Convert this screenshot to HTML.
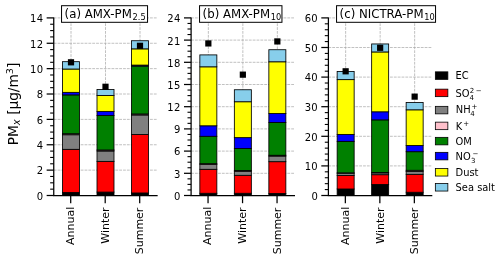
<!DOCTYPE html>
<html lang="en"><head><meta charset="utf-8"><title>PM composition</title>
<style>
html,body{margin:0;padding:0;background:#fff;}
svg{display:block;will-change:transform;filter:grayscale(0);}
text{font-family:"DejaVu Sans","Liberation Sans",sans-serif;fill:#000;}
.t{font-size:10px;}
.l{font-size:13.7px;}
.h{font-size:11.75px;}
.i{font-style:italic;}
.g{font-size:9.9px;}
.x{font-size:11px;}
.y{letter-spacing:0.35px;}
</style></head><body>
<svg width="500" height="259" viewBox="0 0 500 259">
<rect width="500" height="259" fill="#fff"/>
<g>
<line x1="53.75" y1="195.5" x2="157.25" y2="195.5" stroke="#a8a8a8" stroke-width="0.72" stroke-dasharray="2.8 1.05"/>
<line x1="53.75" y1="170.13" x2="157.25" y2="170.13" stroke="#a8a8a8" stroke-width="0.72" stroke-dasharray="2.8 1.05"/>
<line x1="53.75" y1="144.76" x2="157.25" y2="144.76" stroke="#a8a8a8" stroke-width="0.72" stroke-dasharray="2.8 1.05"/>
<line x1="53.75" y1="119.39" x2="157.25" y2="119.39" stroke="#a8a8a8" stroke-width="0.72" stroke-dasharray="2.8 1.05"/>
<line x1="53.75" y1="94.01" x2="157.25" y2="94.01" stroke="#a8a8a8" stroke-width="0.72" stroke-dasharray="2.8 1.05"/>
<line x1="53.75" y1="68.64" x2="157.25" y2="68.64" stroke="#a8a8a8" stroke-width="0.72" stroke-dasharray="2.8 1.05"/>
<line x1="53.75" y1="43.27" x2="157.25" y2="43.27" stroke="#a8a8a8" stroke-width="0.72" stroke-dasharray="2.8 1.05"/>
<line x1="53.75" y1="17.9" x2="157.25" y2="17.9" stroke="#a8a8a8" stroke-width="0.72" stroke-dasharray="2.8 1.05"/>
<line x1="71" y1="195.5" x2="71" y2="17.9" stroke="#a8a8a8" stroke-width="0.72" stroke-dasharray="2.8 1.05"/>
<line x1="105.5" y1="195.5" x2="105.5" y2="17.9" stroke="#a8a8a8" stroke-width="0.72" stroke-dasharray="2.8 1.05"/>
<line x1="140" y1="195.5" x2="140" y2="17.9" stroke="#a8a8a8" stroke-width="0.72" stroke-dasharray="2.8 1.05"/>
<rect x="62.5" y="192.51" width="17" height="2.99" fill="#000000" stroke="#000" stroke-width="0.85"/>
<rect x="62.5" y="149.32" width="17" height="43.18" fill="#ff0000" stroke="#000" stroke-width="0.85"/>
<rect x="62.5" y="134.74" width="17" height="14.59" fill="#808080" stroke="#000" stroke-width="0.85"/>
<rect x="62.5" y="133.72" width="17" height="1.01" fill="#ffc0cb" stroke="#000" stroke-width="0.85"/>
<rect x="62.5" y="94.9" width="17" height="38.82" fill="#008000" stroke="#000" stroke-width="0.85"/>
<rect x="62.5" y="92.37" width="17" height="2.54" fill="#0000ff" stroke="#000" stroke-width="0.85"/>
<rect x="62.5" y="69.02" width="17" height="23.34" fill="#ffff00" stroke="#000" stroke-width="0.85"/>
<rect x="62.5" y="61.67" width="17" height="7.36" fill="#87ceeb" stroke="#000" stroke-width="0.85"/>
<rect x="97" y="192.07" width="17" height="3.43" fill="#000000" stroke="#000" stroke-width="0.85"/>
<rect x="97" y="161.38" width="17" height="30.7" fill="#ff0000" stroke="#000" stroke-width="0.85"/>
<rect x="97" y="150.97" width="17" height="10.4" fill="#808080" stroke="#000" stroke-width="0.85"/>
<rect x="97" y="149.96" width="17" height="1.01" fill="#ffc0cb" stroke="#000" stroke-width="0.85"/>
<rect x="97" y="115.45" width="17" height="34.51" fill="#008000" stroke="#000" stroke-width="0.85"/>
<rect x="97" y="111.39" width="17" height="4.06" fill="#0000ff" stroke="#000" stroke-width="0.85"/>
<rect x="97" y="95.54" width="17" height="15.86" fill="#ffff00" stroke="#000" stroke-width="0.85"/>
<rect x="97" y="89.57" width="17" height="5.96" fill="#87ceeb" stroke="#000" stroke-width="0.85"/>
<rect x="131.5" y="192.96" width="17" height="2.54" fill="#000000" stroke="#000" stroke-width="0.85"/>
<rect x="131.5" y="134.48" width="17" height="58.48" fill="#ff0000" stroke="#000" stroke-width="0.85"/>
<rect x="131.5" y="114.95" width="17" height="19.54" fill="#808080" stroke="#000" stroke-width="0.85"/>
<rect x="131.5" y="113.93" width="17" height="1.01" fill="#ffc0cb" stroke="#000" stroke-width="0.85"/>
<rect x="131.5" y="66.11" width="17" height="47.83" fill="#008000" stroke="#000" stroke-width="0.85"/>
<rect x="131.5" y="65.09" width="17" height="1.01" fill="#0000ff" stroke="#000" stroke-width="0.85"/>
<rect x="131.5" y="48.85" width="17" height="16.24" fill="#ffff00" stroke="#000" stroke-width="0.85"/>
<rect x="131.5" y="40.73" width="17" height="8.12" fill="#87ceeb" stroke="#000" stroke-width="0.85"/>
<rect x="67.9" y="59.2" width="6.2" height="6.2" fill="#000"/>
<rect x="102.4" y="83.68" width="6.2" height="6.2" fill="#000"/>
<rect x="136.9" y="42.71" width="6.2" height="6.2" fill="#000"/>
<polyline points="53.75,17.5 53.75,195.5 157.65,195.5" fill="none" stroke="#000" stroke-width="1.25" stroke-linejoin="miter"/>
<line x1="46.65" y1="195.5" x2="53.75" y2="195.5" stroke="#000" stroke-width="1.25"/>
<text class="t y" x="43.45" y="199.75" text-anchor="end">0</text>
<line x1="50.15" y1="189.16" x2="53.75" y2="189.16" stroke="#000" stroke-width="1.1"/>
<line x1="50.15" y1="182.81" x2="53.75" y2="182.81" stroke="#000" stroke-width="1.1"/>
<line x1="50.15" y1="176.47" x2="53.75" y2="176.47" stroke="#000" stroke-width="1.1"/>
<line x1="46.65" y1="170.13" x2="53.75" y2="170.13" stroke="#000" stroke-width="1.25"/>
<text class="t y" x="43.45" y="174.38" text-anchor="end">2</text>
<line x1="50.15" y1="163.79" x2="53.75" y2="163.79" stroke="#000" stroke-width="1.1"/>
<line x1="50.15" y1="157.44" x2="53.75" y2="157.44" stroke="#000" stroke-width="1.1"/>
<line x1="50.15" y1="151.1" x2="53.75" y2="151.1" stroke="#000" stroke-width="1.1"/>
<line x1="46.65" y1="144.76" x2="53.75" y2="144.76" stroke="#000" stroke-width="1.25"/>
<text class="t y" x="43.45" y="149.01" text-anchor="end">4</text>
<line x1="50.15" y1="138.41" x2="53.75" y2="138.41" stroke="#000" stroke-width="1.1"/>
<line x1="50.15" y1="132.07" x2="53.75" y2="132.07" stroke="#000" stroke-width="1.1"/>
<line x1="50.15" y1="125.73" x2="53.75" y2="125.73" stroke="#000" stroke-width="1.1"/>
<line x1="46.65" y1="119.39" x2="53.75" y2="119.39" stroke="#000" stroke-width="1.25"/>
<text class="t y" x="43.45" y="123.64" text-anchor="end">6</text>
<line x1="50.15" y1="113.04" x2="53.75" y2="113.04" stroke="#000" stroke-width="1.1"/>
<line x1="50.15" y1="106.7" x2="53.75" y2="106.7" stroke="#000" stroke-width="1.1"/>
<line x1="50.15" y1="100.36" x2="53.75" y2="100.36" stroke="#000" stroke-width="1.1"/>
<line x1="46.65" y1="94.01" x2="53.75" y2="94.01" stroke="#000" stroke-width="1.25"/>
<text class="t y" x="43.45" y="98.26" text-anchor="end">8</text>
<line x1="50.15" y1="87.67" x2="53.75" y2="87.67" stroke="#000" stroke-width="1.1"/>
<line x1="50.15" y1="81.33" x2="53.75" y2="81.33" stroke="#000" stroke-width="1.1"/>
<line x1="50.15" y1="74.99" x2="53.75" y2="74.99" stroke="#000" stroke-width="1.1"/>
<line x1="46.65" y1="68.64" x2="53.75" y2="68.64" stroke="#000" stroke-width="1.25"/>
<text class="t y" x="43.45" y="72.89" text-anchor="end">10</text>
<line x1="50.15" y1="62.3" x2="53.75" y2="62.3" stroke="#000" stroke-width="1.1"/>
<line x1="50.15" y1="55.96" x2="53.75" y2="55.96" stroke="#000" stroke-width="1.1"/>
<line x1="50.15" y1="49.61" x2="53.75" y2="49.61" stroke="#000" stroke-width="1.1"/>
<line x1="46.65" y1="43.27" x2="53.75" y2="43.27" stroke="#000" stroke-width="1.25"/>
<text class="t y" x="43.45" y="47.52" text-anchor="end">12</text>
<line x1="50.15" y1="36.93" x2="53.75" y2="36.93" stroke="#000" stroke-width="1.1"/>
<line x1="50.15" y1="30.59" x2="53.75" y2="30.59" stroke="#000" stroke-width="1.1"/>
<line x1="50.15" y1="24.24" x2="53.75" y2="24.24" stroke="#000" stroke-width="1.1"/>
<line x1="46.65" y1="17.9" x2="53.75" y2="17.9" stroke="#000" stroke-width="1.25"/>
<text class="t y" x="43.45" y="22.15" text-anchor="end">14</text>
<line x1="70.7" y1="195.5" x2="70.7" y2="203.2" stroke="#000" stroke-width="1.25"/>
<text class="x" transform="translate(73.7 206.7) rotate(-90)" text-anchor="end">Annual</text>
<line x1="105.2" y1="195.5" x2="105.2" y2="203.2" stroke="#000" stroke-width="1.25"/>
<text class="x" transform="translate(108.5 207.4) rotate(-90)" text-anchor="end">Winter</text>
<line x1="139.7" y1="195.5" x2="139.7" y2="203.2" stroke="#000" stroke-width="1.25"/>
<text class="x" transform="translate(143.2 207.6) rotate(-90)" text-anchor="end">Summer</text>
<rect x="61.55" y="5.7" width="86" height="16.6" fill="#fff" stroke="#000" stroke-width="1"/>
<text class="h" x="64.6" y="18">(a) AMX-PM<tspan dx="0.8" dy="2.3" font-size="8.22px">2.5</tspan></text>
</g>
<g>
<line x1="191.1" y1="195.5" x2="294.6" y2="195.5" stroke="#a8a8a8" stroke-width="0.72" stroke-dasharray="2.8 1.05"/>
<line x1="191.1" y1="173.3" x2="294.6" y2="173.3" stroke="#a8a8a8" stroke-width="0.72" stroke-dasharray="2.8 1.05"/>
<line x1="191.1" y1="151.1" x2="294.6" y2="151.1" stroke="#a8a8a8" stroke-width="0.72" stroke-dasharray="2.8 1.05"/>
<line x1="191.1" y1="128.9" x2="294.6" y2="128.9" stroke="#a8a8a8" stroke-width="0.72" stroke-dasharray="2.8 1.05"/>
<line x1="191.1" y1="106.7" x2="294.6" y2="106.7" stroke="#a8a8a8" stroke-width="0.72" stroke-dasharray="2.8 1.05"/>
<line x1="191.1" y1="84.5" x2="294.6" y2="84.5" stroke="#a8a8a8" stroke-width="0.72" stroke-dasharray="2.8 1.05"/>
<line x1="191.1" y1="62.3" x2="294.6" y2="62.3" stroke="#a8a8a8" stroke-width="0.72" stroke-dasharray="2.8 1.05"/>
<line x1="191.1" y1="40.1" x2="294.6" y2="40.1" stroke="#a8a8a8" stroke-width="0.72" stroke-dasharray="2.8 1.05"/>
<line x1="191.1" y1="17.9" x2="294.6" y2="17.9" stroke="#a8a8a8" stroke-width="0.72" stroke-dasharray="2.8 1.05"/>
<line x1="208.35" y1="195.5" x2="208.35" y2="17.9" stroke="#a8a8a8" stroke-width="0.72" stroke-dasharray="2.8 1.05"/>
<line x1="242.85" y1="195.5" x2="242.85" y2="17.9" stroke="#a8a8a8" stroke-width="0.72" stroke-dasharray="2.8 1.05"/>
<line x1="277.35" y1="195.5" x2="277.35" y2="17.9" stroke="#a8a8a8" stroke-width="0.72" stroke-dasharray="2.8 1.05"/>
<rect x="199.85" y="193.28" width="17" height="2.22" fill="#000000" stroke="#000" stroke-width="0.85"/>
<rect x="199.85" y="169.3" width="17" height="23.98" fill="#ff0000" stroke="#000" stroke-width="0.85"/>
<rect x="199.85" y="164.57" width="17" height="4.74" fill="#808080" stroke="#000" stroke-width="0.85"/>
<rect x="199.85" y="163.68" width="17" height="0.89" fill="#ffc0cb" stroke="#000" stroke-width="0.85"/>
<rect x="199.85" y="136.3" width="17" height="27.38" fill="#008000" stroke="#000" stroke-width="0.85"/>
<rect x="199.85" y="125.79" width="17" height="10.51" fill="#0000ff" stroke="#000" stroke-width="0.85"/>
<rect x="199.85" y="66.81" width="17" height="58.98" fill="#ffff00" stroke="#000" stroke-width="0.85"/>
<rect x="199.85" y="54.9" width="17" height="11.91" fill="#87ceeb" stroke="#000" stroke-width="0.85"/>
<rect x="234.35" y="193.28" width="17" height="2.22" fill="#000000" stroke="#000" stroke-width="0.85"/>
<rect x="234.35" y="175.3" width="17" height="17.98" fill="#ff0000" stroke="#000" stroke-width="0.85"/>
<rect x="234.35" y="171.38" width="17" height="3.92" fill="#808080" stroke="#000" stroke-width="0.85"/>
<rect x="234.35" y="170.49" width="17" height="0.89" fill="#ffc0cb" stroke="#000" stroke-width="0.85"/>
<rect x="234.35" y="148.44" width="17" height="22.05" fill="#008000" stroke="#000" stroke-width="0.85"/>
<rect x="234.35" y="137.63" width="17" height="10.8" fill="#0000ff" stroke="#000" stroke-width="0.85"/>
<rect x="234.35" y="101.74" width="17" height="35.89" fill="#ffff00" stroke="#000" stroke-width="0.85"/>
<rect x="234.35" y="89.75" width="17" height="11.99" fill="#87ceeb" stroke="#000" stroke-width="0.85"/>
<rect x="268.85" y="193.43" width="17" height="2.07" fill="#000000" stroke="#000" stroke-width="0.85"/>
<rect x="268.85" y="161.68" width="17" height="31.75" fill="#ff0000" stroke="#000" stroke-width="0.85"/>
<rect x="268.85" y="156.13" width="17" height="5.55" fill="#808080" stroke="#000" stroke-width="0.85"/>
<rect x="268.85" y="155.24" width="17" height="0.89" fill="#ffc0cb" stroke="#000" stroke-width="0.85"/>
<rect x="268.85" y="122.54" width="17" height="32.71" fill="#008000" stroke="#000" stroke-width="0.85"/>
<rect x="268.85" y="113.58" width="17" height="8.95" fill="#0000ff" stroke="#000" stroke-width="0.85"/>
<rect x="268.85" y="61.78" width="17" height="51.8" fill="#ffff00" stroke="#000" stroke-width="0.85"/>
<rect x="268.85" y="49.72" width="17" height="12.06" fill="#87ceeb" stroke="#000" stroke-width="0.85"/>
<rect x="205.25" y="40.33" width="6.2" height="6.2" fill="#000"/>
<rect x="239.75" y="71.56" width="6.2" height="6.2" fill="#000"/>
<rect x="274.25" y="38.33" width="6.2" height="6.2" fill="#000"/>
<polyline points="191.1,17.5 191.1,195.5 295,195.5" fill="none" stroke="#000" stroke-width="1.25" stroke-linejoin="miter"/>
<line x1="184" y1="195.5" x2="191.1" y2="195.5" stroke="#000" stroke-width="1.25"/>
<text class="t y" x="180.8" y="199.75" text-anchor="end">0</text>
<line x1="187.5" y1="189.95" x2="191.1" y2="189.95" stroke="#000" stroke-width="1.1"/>
<line x1="187.5" y1="184.4" x2="191.1" y2="184.4" stroke="#000" stroke-width="1.1"/>
<line x1="187.5" y1="178.85" x2="191.1" y2="178.85" stroke="#000" stroke-width="1.1"/>
<line x1="184" y1="173.3" x2="191.1" y2="173.3" stroke="#000" stroke-width="1.25"/>
<text class="t y" x="180.8" y="177.55" text-anchor="end">3</text>
<line x1="187.5" y1="167.75" x2="191.1" y2="167.75" stroke="#000" stroke-width="1.1"/>
<line x1="187.5" y1="162.2" x2="191.1" y2="162.2" stroke="#000" stroke-width="1.1"/>
<line x1="187.5" y1="156.65" x2="191.1" y2="156.65" stroke="#000" stroke-width="1.1"/>
<line x1="184" y1="151.1" x2="191.1" y2="151.1" stroke="#000" stroke-width="1.25"/>
<text class="t y" x="180.8" y="155.35" text-anchor="end">6</text>
<line x1="187.5" y1="145.55" x2="191.1" y2="145.55" stroke="#000" stroke-width="1.1"/>
<line x1="187.5" y1="140" x2="191.1" y2="140" stroke="#000" stroke-width="1.1"/>
<line x1="187.5" y1="134.45" x2="191.1" y2="134.45" stroke="#000" stroke-width="1.1"/>
<line x1="184" y1="128.9" x2="191.1" y2="128.9" stroke="#000" stroke-width="1.25"/>
<text class="t y" x="180.8" y="133.15" text-anchor="end">9</text>
<line x1="187.5" y1="123.35" x2="191.1" y2="123.35" stroke="#000" stroke-width="1.1"/>
<line x1="187.5" y1="117.8" x2="191.1" y2="117.8" stroke="#000" stroke-width="1.1"/>
<line x1="187.5" y1="112.25" x2="191.1" y2="112.25" stroke="#000" stroke-width="1.1"/>
<line x1="184" y1="106.7" x2="191.1" y2="106.7" stroke="#000" stroke-width="1.25"/>
<text class="t y" x="180.8" y="110.95" text-anchor="end">12</text>
<line x1="187.5" y1="101.15" x2="191.1" y2="101.15" stroke="#000" stroke-width="1.1"/>
<line x1="187.5" y1="95.6" x2="191.1" y2="95.6" stroke="#000" stroke-width="1.1"/>
<line x1="187.5" y1="90.05" x2="191.1" y2="90.05" stroke="#000" stroke-width="1.1"/>
<line x1="184" y1="84.5" x2="191.1" y2="84.5" stroke="#000" stroke-width="1.25"/>
<text class="t y" x="180.8" y="88.75" text-anchor="end">15</text>
<line x1="187.5" y1="78.95" x2="191.1" y2="78.95" stroke="#000" stroke-width="1.1"/>
<line x1="187.5" y1="73.4" x2="191.1" y2="73.4" stroke="#000" stroke-width="1.1"/>
<line x1="187.5" y1="67.85" x2="191.1" y2="67.85" stroke="#000" stroke-width="1.1"/>
<line x1="184" y1="62.3" x2="191.1" y2="62.3" stroke="#000" stroke-width="1.25"/>
<text class="t y" x="180.8" y="66.55" text-anchor="end">18</text>
<line x1="187.5" y1="56.75" x2="191.1" y2="56.75" stroke="#000" stroke-width="1.1"/>
<line x1="187.5" y1="51.2" x2="191.1" y2="51.2" stroke="#000" stroke-width="1.1"/>
<line x1="187.5" y1="45.65" x2="191.1" y2="45.65" stroke="#000" stroke-width="1.1"/>
<line x1="184" y1="40.1" x2="191.1" y2="40.1" stroke="#000" stroke-width="1.25"/>
<text class="t y" x="180.8" y="44.85" text-anchor="end">21</text>
<line x1="187.5" y1="34.55" x2="191.1" y2="34.55" stroke="#000" stroke-width="1.1"/>
<line x1="187.5" y1="29" x2="191.1" y2="29" stroke="#000" stroke-width="1.1"/>
<line x1="187.5" y1="23.45" x2="191.1" y2="23.45" stroke="#000" stroke-width="1.1"/>
<line x1="184" y1="17.9" x2="191.1" y2="17.9" stroke="#000" stroke-width="1.25"/>
<text class="t y" x="180.8" y="22.15" text-anchor="end">24</text>
<line x1="208.05" y1="195.5" x2="208.05" y2="203.2" stroke="#000" stroke-width="1.25"/>
<text class="x" transform="translate(211.15 206.7) rotate(-90)" text-anchor="end">Annual</text>
<line x1="242.55" y1="195.5" x2="242.55" y2="203.2" stroke="#000" stroke-width="1.25"/>
<text class="x" transform="translate(245.95 207.4) rotate(-90)" text-anchor="end">Winter</text>
<line x1="277.05" y1="195.5" x2="277.05" y2="203.2" stroke="#000" stroke-width="1.25"/>
<text class="x" transform="translate(281.05 207.6) rotate(-90)" text-anchor="end">Summer</text>
<rect x="199.55" y="5.7" width="82.4" height="16.6" fill="#fff" stroke="#000" stroke-width="1"/>
<text class="h" x="202.6" y="18">(b) AMX-PM<tspan dx="0.8" dy="2.3" font-size="8.22px">10</tspan></text>
</g>
<g>
<line x1="328.4" y1="195.5" x2="431.9" y2="195.5" stroke="#a8a8a8" stroke-width="0.72" stroke-dasharray="2.8 1.05"/>
<line x1="328.4" y1="165.9" x2="431.9" y2="165.9" stroke="#a8a8a8" stroke-width="0.72" stroke-dasharray="2.8 1.05"/>
<line x1="328.4" y1="136.3" x2="431.9" y2="136.3" stroke="#a8a8a8" stroke-width="0.72" stroke-dasharray="2.8 1.05"/>
<line x1="328.4" y1="106.7" x2="431.9" y2="106.7" stroke="#a8a8a8" stroke-width="0.72" stroke-dasharray="2.8 1.05"/>
<line x1="328.4" y1="77.1" x2="431.9" y2="77.1" stroke="#a8a8a8" stroke-width="0.72" stroke-dasharray="2.8 1.05"/>
<line x1="328.4" y1="47.5" x2="431.9" y2="47.5" stroke="#a8a8a8" stroke-width="0.72" stroke-dasharray="2.8 1.05"/>
<line x1="328.4" y1="17.9" x2="431.9" y2="17.9" stroke="#a8a8a8" stroke-width="0.72" stroke-dasharray="2.8 1.05"/>
<line x1="345.65" y1="195.5" x2="345.65" y2="17.9" stroke="#a8a8a8" stroke-width="0.72" stroke-dasharray="2.8 1.05"/>
<line x1="380.15" y1="195.5" x2="380.15" y2="17.9" stroke="#a8a8a8" stroke-width="0.72" stroke-dasharray="2.8 1.05"/>
<line x1="414.65" y1="195.5" x2="414.65" y2="17.9" stroke="#a8a8a8" stroke-width="0.72" stroke-dasharray="2.8 1.05"/>
<rect x="337.15" y="188.99" width="17" height="6.51" fill="#000000" stroke="#000" stroke-width="0.85"/>
<rect x="337.15" y="175.46" width="17" height="13.53" fill="#ff0000" stroke="#000" stroke-width="0.85"/>
<rect x="337.15" y="173.27" width="17" height="2.19" fill="#808080" stroke="#000" stroke-width="0.85"/>
<rect x="337.15" y="172.86" width="17" height="0.41" fill="#ffc0cb" stroke="#000" stroke-width="0.85"/>
<rect x="337.15" y="141.36" width="17" height="31.49" fill="#008000" stroke="#000" stroke-width="0.85"/>
<rect x="337.15" y="134.41" width="17" height="6.96" fill="#0000ff" stroke="#000" stroke-width="0.85"/>
<rect x="337.15" y="79.62" width="17" height="54.79" fill="#ffff00" stroke="#000" stroke-width="0.85"/>
<rect x="337.15" y="71.48" width="17" height="8.14" fill="#87ceeb" stroke="#000" stroke-width="0.85"/>
<rect x="371.65" y="184.46" width="17" height="11.04" fill="#000000" stroke="#000" stroke-width="0.85"/>
<rect x="371.65" y="174.69" width="17" height="9.77" fill="#ff0000" stroke="#000" stroke-width="0.85"/>
<rect x="371.65" y="172.89" width="17" height="1.81" fill="#808080" stroke="#000" stroke-width="0.85"/>
<rect x="371.65" y="172.41" width="17" height="0.47" fill="#ffc0cb" stroke="#000" stroke-width="0.85"/>
<rect x="371.65" y="119.87" width="17" height="52.54" fill="#008000" stroke="#000" stroke-width="0.85"/>
<rect x="371.65" y="111.79" width="17" height="8.08" fill="#0000ff" stroke="#000" stroke-width="0.85"/>
<rect x="371.65" y="51.94" width="17" height="59.85" fill="#ffff00" stroke="#000" stroke-width="0.85"/>
<rect x="371.65" y="43.95" width="17" height="7.99" fill="#87ceeb" stroke="#000" stroke-width="0.85"/>
<rect x="406.15" y="192.24" width="17" height="3.26" fill="#000000" stroke="#000" stroke-width="0.85"/>
<rect x="406.15" y="174.34" width="17" height="17.91" fill="#ff0000" stroke="#000" stroke-width="0.85"/>
<rect x="406.15" y="171.52" width="17" height="2.81" fill="#808080" stroke="#000" stroke-width="0.85"/>
<rect x="406.15" y="170.28" width="17" height="1.24" fill="#ffc0cb" stroke="#000" stroke-width="0.85"/>
<rect x="406.15" y="151.69" width="17" height="18.59" fill="#008000" stroke="#000" stroke-width="0.85"/>
<rect x="406.15" y="145.54" width="17" height="6.16" fill="#0000ff" stroke="#000" stroke-width="0.85"/>
<rect x="406.15" y="109.81" width="17" height="35.73" fill="#ffff00" stroke="#000" stroke-width="0.85"/>
<rect x="406.15" y="102.56" width="17" height="7.25" fill="#87ceeb" stroke="#000" stroke-width="0.85"/>
<rect x="342.55" y="68.2" width="6.2" height="6.2" fill="#000"/>
<rect x="377.05" y="44.7" width="6.2" height="6.2" fill="#000"/>
<rect x="411.55" y="93.54" width="6.2" height="6.2" fill="#000"/>
<polyline points="328.4,17.5 328.4,195.5 432.3,195.5" fill="none" stroke="#000" stroke-width="1.25" stroke-linejoin="miter"/>
<line x1="321.3" y1="195.5" x2="328.4" y2="195.5" stroke="#000" stroke-width="1.25"/>
<text class="t y" x="318.1" y="199.75" text-anchor="end">0</text>
<line x1="324.8" y1="189.58" x2="328.4" y2="189.58" stroke="#000" stroke-width="1.1"/>
<line x1="324.8" y1="183.66" x2="328.4" y2="183.66" stroke="#000" stroke-width="1.1"/>
<line x1="324.8" y1="177.74" x2="328.4" y2="177.74" stroke="#000" stroke-width="1.1"/>
<line x1="324.8" y1="171.82" x2="328.4" y2="171.82" stroke="#000" stroke-width="1.1"/>
<line x1="321.3" y1="165.9" x2="328.4" y2="165.9" stroke="#000" stroke-width="1.25"/>
<text class="t y" x="318.1" y="170.15" text-anchor="end">10</text>
<line x1="324.8" y1="159.98" x2="328.4" y2="159.98" stroke="#000" stroke-width="1.1"/>
<line x1="324.8" y1="154.06" x2="328.4" y2="154.06" stroke="#000" stroke-width="1.1"/>
<line x1="324.8" y1="148.14" x2="328.4" y2="148.14" stroke="#000" stroke-width="1.1"/>
<line x1="324.8" y1="142.22" x2="328.4" y2="142.22" stroke="#000" stroke-width="1.1"/>
<line x1="321.3" y1="136.3" x2="328.4" y2="136.3" stroke="#000" stroke-width="1.25"/>
<text class="t y" x="318.1" y="140.55" text-anchor="end">20</text>
<line x1="324.8" y1="130.38" x2="328.4" y2="130.38" stroke="#000" stroke-width="1.1"/>
<line x1="324.8" y1="124.46" x2="328.4" y2="124.46" stroke="#000" stroke-width="1.1"/>
<line x1="324.8" y1="118.54" x2="328.4" y2="118.54" stroke="#000" stroke-width="1.1"/>
<line x1="324.8" y1="112.62" x2="328.4" y2="112.62" stroke="#000" stroke-width="1.1"/>
<line x1="321.3" y1="106.7" x2="328.4" y2="106.7" stroke="#000" stroke-width="1.25"/>
<text class="t y" x="318.1" y="110.95" text-anchor="end">30</text>
<line x1="324.8" y1="100.78" x2="328.4" y2="100.78" stroke="#000" stroke-width="1.1"/>
<line x1="324.8" y1="94.86" x2="328.4" y2="94.86" stroke="#000" stroke-width="1.1"/>
<line x1="324.8" y1="88.94" x2="328.4" y2="88.94" stroke="#000" stroke-width="1.1"/>
<line x1="324.8" y1="83.02" x2="328.4" y2="83.02" stroke="#000" stroke-width="1.1"/>
<line x1="321.3" y1="77.1" x2="328.4" y2="77.1" stroke="#000" stroke-width="1.25"/>
<text class="t y" x="318.1" y="81.35" text-anchor="end">40</text>
<line x1="324.8" y1="71.18" x2="328.4" y2="71.18" stroke="#000" stroke-width="1.1"/>
<line x1="324.8" y1="65.26" x2="328.4" y2="65.26" stroke="#000" stroke-width="1.1"/>
<line x1="324.8" y1="59.34" x2="328.4" y2="59.34" stroke="#000" stroke-width="1.1"/>
<line x1="324.8" y1="53.42" x2="328.4" y2="53.42" stroke="#000" stroke-width="1.1"/>
<line x1="321.3" y1="47.5" x2="328.4" y2="47.5" stroke="#000" stroke-width="1.25"/>
<text class="t y" x="318.1" y="51.75" text-anchor="end">50</text>
<line x1="324.8" y1="41.58" x2="328.4" y2="41.58" stroke="#000" stroke-width="1.1"/>
<line x1="324.8" y1="35.66" x2="328.4" y2="35.66" stroke="#000" stroke-width="1.1"/>
<line x1="324.8" y1="29.74" x2="328.4" y2="29.74" stroke="#000" stroke-width="1.1"/>
<line x1="324.8" y1="23.82" x2="328.4" y2="23.82" stroke="#000" stroke-width="1.1"/>
<line x1="321.3" y1="17.9" x2="328.4" y2="17.9" stroke="#000" stroke-width="1.25"/>
<text class="t y" x="318.1" y="22.15" text-anchor="end">60</text>
<line x1="345.35" y1="195.5" x2="345.35" y2="203.2" stroke="#000" stroke-width="1.25"/>
<text class="x" transform="translate(349.35 206.7) rotate(-90)" text-anchor="end">Annual</text>
<line x1="379.85" y1="195.5" x2="379.85" y2="203.2" stroke="#000" stroke-width="1.25"/>
<text class="x" transform="translate(383.85 207.4) rotate(-90)" text-anchor="end">Winter</text>
<line x1="414.35" y1="195.5" x2="414.35" y2="203.2" stroke="#000" stroke-width="1.25"/>
<text class="x" transform="translate(418.35 207.6) rotate(-90)" text-anchor="end">Summer</text>
<rect x="336.55" y="5.7" width="99" height="16.6" fill="#fff" stroke="#000" stroke-width="1"/>
<text class="h" x="339.6" y="18">(c) NICTRA-PM<tspan dx="0.8" dy="2.3" font-size="8.22px">10</tspan></text>
</g>
<text class="l" transform="translate(18.4 145.3) rotate(-90)">PM<tspan class="i" dy="1.5" font-size="10.14px">x</tspan><tspan dy="-1.5"> [μg/m</tspan><tspan dy="-5.4" font-size="9.59px">3</tspan><tspan dy="5.4">]</tspan></text>
<g>
<rect x="435.35" y="71.85" width="12.5" height="7.5" fill="#000000" stroke="#000" stroke-width="0.8"/>
<text class="t g"><tspan x="455.6" y="79.3">EC</tspan></text>
<rect x="435.35" y="89.15" width="12.5" height="7.5" fill="#ff0000" stroke="#000" stroke-width="0.8"/>
<text class="t g"><tspan x="455.6" y="96.7">SO</tspan><tspan x="469.82" y="92.5" font-size="7px">2</tspan><tspan x="475.67" y="92.5" font-size="7px">−</tspan><tspan x="469.52" y="99.5" font-size="7px">4</tspan></text>
<rect x="435.35" y="106.35" width="12.5" height="7.5" fill="#808080" stroke="#000" stroke-width="0.8"/>
<text class="t g"><tspan x="455.8" y="113.35">NH</tspan><tspan x="471.55" y="109.15" font-size="7px">+</tspan><tspan x="470.3" y="116.15" font-size="7px">4</tspan></text>
<rect x="435.35" y="122.15" width="12.5" height="7.5" fill="#ffc0cb" stroke="#000" stroke-width="0.8"/>
<text class="t g"><tspan x="455.8" y="129.75">K</tspan><tspan x="463.36" y="125.7" font-size="7px">+</tspan></text>
<rect x="435.35" y="137.35" width="12.5" height="7.5" fill="#008000" stroke="#000" stroke-width="0.8"/>
<text class="t g"><tspan x="455.6" y="144.5">OM</tspan></text>
<rect x="435.35" y="152.35" width="12.5" height="7.5" fill="#0000ff" stroke="#000" stroke-width="0.8"/>
<text class="t g"><tspan x="455.6" y="160.35">NO</tspan><tspan x="472.45" y="156.15" font-size="7px">−</tspan><tspan x="470.95" y="163.15" font-size="7px">3</tspan></text>
<rect x="435.35" y="168.55" width="12.5" height="7.5" fill="#ffff00" stroke="#000" stroke-width="0.8"/>
<text class="t g"><tspan x="455.6" y="176.2">Dust</tspan></text>
<rect x="435.35" y="183.55" width="12.5" height="7.5" fill="#87ceeb" stroke="#000" stroke-width="0.8"/>
<text class="t g"><tspan x="455.6" y="190.6">Sea salt</tspan></text>
</g>
</svg></body></html>
